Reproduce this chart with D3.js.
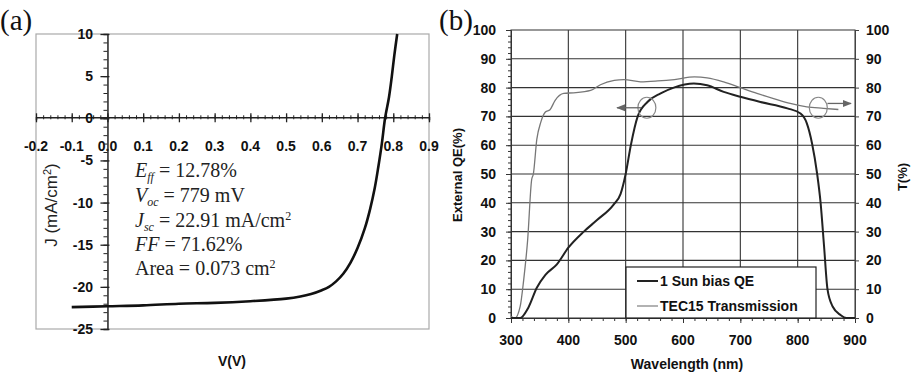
<!DOCTYPE html>
<html><head><meta charset="utf-8">
<script src="https://cdn.jsdelivr.net/npm/d3@7"></script>
<style>body{margin:0;background:#fff}svg{display:block}</style>
</head><body>
<svg id="c" width="914" height="378"></svg>
<script>
// ---- Panel (a): J-V data ----
const jvVoltage = [-0.1,0.0,0.1,0.2,0.3,0.4,0.5,0.54,0.57,0.6,0.62,0.64,0.66,0.68,0.70,0.72,0.735,0.748,0.758,0.768,0.777,0.788,0.796,0.803,0.811];
const jvCurrent = [-22.4,-22.3,-22.2,-22.0,-21.9,-21.7,-21.4,-21.15,-20.85,-20.4,-20.0,-19.35,-18.45,-17.15,-15.4,-13.1,-10.8,-8.3,-5.8,-3.0,0,2.5,5,7.5,10];
const jvXTicks = [-0.2,-0.1,0.0,0.1,0.2,0.3,0.4,0.5,0.6,0.7,0.8,0.9];
const jvYTicks = [10,5,0,-5,-10,-15,-20,-25];

// ---- Panel (b): QE and transmission ----
const qeWavelength = [300,316,330,345,360,380,400,427,450,479,491,500,509,521,538,561,584,619,642,671,700,735,782,805,816,825,834,840,846,852,861,875,885,900];
const qeValues =     [0,0,3.5,10.5,15,18.6,24.4,30,34,39.4,43,50,60,70,75,78,80,81.4,80.8,78.5,76.8,75,72.8,71,67.6,60.7,50,40,25,10,4,1,0,0];
const tWavelength = [300,307,316,322,329,336,339,345,352,360,368,377,392,409,439,456,480,497,526,556,585,620,642,671,700,729,758,787,816,845,871];
const tValues =     [0.5,0,4,13,27,48,50,62,68,71.5,72.3,75.6,78,78.2,79,81,82.5,82.8,82,82.3,82.8,83.7,83.4,82,80,78,76.2,74.5,73.3,72.8,72.4];
const qeXTicks = [300,400,500,600,700,800,900];
const qeYTicks = [0,10,20,30,40,50,60,70,80,90,100];
const legendLabels = ["1 Sun bias QE","TEC15 Transmission"];

const svg = d3.select("#c");
const tickFont = "'Liberation Sans', Arial, sans-serif";

// ================= Panel (a) =================
const ax = d3.scaleLinear().domain([-0.2,0.9]).range([36,429]);
const ay = d3.scaleLinear().domain([-25,10]).range([329,34]);
const ga = svg.append("g");
ga.append("rect").attr("x",ax(-0.2)).attr("y",ay(10)).attr("width",ax(0.9)-ax(-0.2)).attr("height",ay(-25)-ay(10))
  .attr("fill","none").attr("stroke","#aaa").attr("stroke-width",1.2);

// x axis at J=0
const xAxisA = d3.axisBottom(ax).tickValues(d3.range(-0.2,0.9001,0.02)).tickSize(3).tickFormat("");
ga.append("g").attr("transform",`translate(0,${ay(0)-1})`).call(xAxisA)
  .call(g=>g.selectAll("line").attr("stroke","#222").attr("y1",-2).attr("y2",2))
  .call(g=>g.select(".domain").attr("stroke","#222").attr("stroke-width",1.5));
ga.append("g").attr("transform",`translate(0,${ay(0)})`).call(d3.axisBottom(ax).tickValues(jvXTicks).tickSize(0).tickFormat(""))
  .call(g=>g.select(".domain").remove())
  .call(g=>g.selectAll(".tick line").attr("stroke","#222").attr("stroke-width",1.3).attr("y1",-5).attr("y2",4));
ga.selectAll("text.xl").data(jvXTicks).join("text").attr("class","xl")
  .attr("x",d=>ax(d)).attr("y",151).attr("text-anchor","middle")
  .attr("font-family",tickFont).attr("font-weight","bold").attr("font-size",14).attr("fill","#111")
  .text(d=>d.toFixed(1));

// y axis at V=0
const yAxisA = d3.axisLeft(ay).tickValues(d3.range(-25,10.001,1)).tickSize(4).tickFormat("");
ga.append("g").attr("transform",`translate(${ax(0)},0)`).call(yAxisA)
  .call(g=>g.selectAll("line").attr("stroke","#222"))
  .call(g=>g.select(".domain").attr("stroke","#222").attr("stroke-width",1.5));
ga.append("g").attr("transform",`translate(${ax(0)},0)`).call(d3.axisLeft(ay).tickValues(jvYTicks).tickSize(0).tickFormat(""))
  .call(g=>g.select(".domain").remove())
  .call(g=>g.selectAll(".tick line").attr("stroke","#222").attr("stroke-width",1.3).attr("x1",-7).attr("x2",2));
ga.selectAll("text.yl").data(jvYTicks).join("text").attr("class","yl")
  .attr("x",93).attr("y",d=>ay(d)+5).attr("text-anchor","end")
  .attr("font-family",tickFont).attr("font-weight","bold").attr("font-size",14).attr("fill","#111")
  .text(d=>d);

// curve
const lineA = d3.line().x((d,i)=>ax(jvVoltage[i])).y((d,i)=>ay(jvCurrent[i])).curve(d3.curveCatmullRom.alpha(0.5));
ga.append("path").datum(jvVoltage).attr("d",lineA).attr("fill","none").attr("stroke","#111").attr("stroke-width",2.6);

// axis titles
ga.append("text").attr("transform","translate(57,205) rotate(-90)").attr("text-anchor","middle")
  .attr("font-family",tickFont).attr("font-size",17).attr("fill","#222")
  .html('J (mA/cm<tspan dy="-6" font-size="11">2</tspan><tspan dy="6">)</tspan>');
ga.append("text").attr("x",232).attr("y",366).attr("text-anchor","middle")
  .attr("font-family",tickFont).attr("font-weight","bold").attr("font-size",14).attr("fill","#111").text("V(V)");

// parameter text
const serif = "'Liberation Serif','Times New Roman',serif";
const tb = ga.append("g").attr("font-family",serif).attr("font-size",20).attr("fill","#222");
tb.append("text").attr("x",135).attr("y",177).html('<tspan font-style="italic">E</tspan><tspan font-style="italic" font-size="12" dy="4">ff</tspan><tspan dy="-4"> = 12.78%</tspan>');
tb.append("text").attr("x",135).attr("y",202).html('<tspan font-style="italic">V</tspan><tspan font-style="italic" font-size="12" dy="4">oc</tspan><tspan dy="-4"> = 779 mV</tspan>');
tb.append("text").attr("x",135).attr("y",227).html('<tspan font-style="italic">J</tspan><tspan font-style="italic" font-size="12" dy="4">sc</tspan><tspan dy="-4"> = 22.91 mA/cm</tspan><tspan font-size="12" dy="-7">2</tspan>');
tb.append("text").attr("x",135).attr("y",251).html('<tspan font-style="italic">FF</tspan> = 71.62%');
tb.append("text").attr("x",135).attr("y",275).html('Area = 0.073 cm<tspan font-size="12" dy="-7">2</tspan>');

svg.append("text").attr("x",0).attr("y",30).attr("font-family",serif).attr("font-size",29).attr("fill","#111").text("(a)");
svg.append("text").attr("x",439).attr("y",30).attr("font-family",serif).attr("font-size",29).attr("fill","#111").text("(b)");

// ================= Panel (b) =================
const bx = d3.scaleLinear().domain([300,900]).range([511,855]);
const by = d3.scaleLinear().domain([0,100]).range([318,30]);
const gb = svg.append("g");
// grid
gb.selectAll("line.gx").data(qeXTicks.slice(1,-1)).join("line").attr("class","gx")
  .attr("x1",d=>bx(d)).attr("x2",d=>bx(d)).attr("y1",by(100)).attr("y2",by(0)).attr("stroke","#333").attr("stroke-width",1.1);
gb.selectAll("line.gy").data(qeYTicks.slice(1,-1)).join("line").attr("class","gy")
  .attr("x1",bx(300)).attr("x2",bx(900)).attr("y1",d=>by(d)).attr("y2",d=>by(d)).attr("stroke","#333").attr("stroke-width",1.1);
gb.append("rect").attr("x",bx(300)).attr("y",by(100)).attr("width",bx(900)-bx(300)).attr("height",by(0)-by(100))
  .attr("fill","none").attr("stroke","#444").attr("stroke-width",1.1);

// left axis minor ticks
gb.append("g").attr("transform",`translate(${bx(300)},0)`).call(d3.axisLeft(by).tickValues(d3.range(0,100.001,2)).tickSize(3).tickFormat(""))
  .call(g=>g.selectAll("line").attr("stroke","#333"))
  .call(g=>g.select(".domain").attr("stroke","#333"));
gb.append("g").attr("transform",`translate(${bx(300)},0)`).call(d3.axisLeft(by).tickValues(qeYTicks).tickSize(5).tickFormat(""))
  .call(g=>g.select(".domain").remove()).call(g=>g.selectAll("line").attr("stroke","#333"));
// bottom minor ticks
gb.append("g").attr("transform",`translate(0,${by(0)})`).call(d3.axisBottom(bx).tickValues(d3.range(300,900.001,20)).tickSize(3).tickFormat(""))
  .call(g=>g.selectAll("line").attr("stroke","#333"))
  .call(g=>g.select(".domain").attr("stroke","#333"));
gb.append("g").attr("transform",`translate(0,${by(0)})`).call(d3.axisBottom(bx).tickValues(qeXTicks).tickSize(5).tickFormat(""))
  .call(g=>g.select(".domain").remove()).call(g=>g.selectAll("line").attr("stroke","#333"));
// right ticks
gb.append("g").attr("transform",`translate(${bx(900)},0)`).call(d3.axisRight(by).tickValues(qeYTicks).tickSize(4).tickFormat(""))
  .call(g=>g.select(".domain").attr("stroke","#444")).call(g=>g.selectAll("line").attr("stroke","#444"));

// tick labels
gb.selectAll("text.bl").data(qeYTicks).join("text").attr("class","bl")
  .attr("x",496).attr("y",d=>by(d)+5).attr("text-anchor","end")
  .attr("font-family",tickFont).attr("font-weight","bold").attr("font-size",14).attr("fill","#111").text(d=>d);
gb.selectAll("text.br").data(qeYTicks).join("text").attr("class","br")
  .attr("x",866).attr("y",d=>by(d)+5).attr("text-anchor","start")
  .attr("font-family",tickFont).attr("font-weight","bold").attr("font-size",14).attr("fill","#111").text(d=>d);
gb.selectAll("text.bx").data(qeXTicks).join("text").attr("class","bx")
  .attr("x",d=>bx(d)).attr("y",345).attr("text-anchor","middle")
  .attr("font-family",tickFont).attr("font-weight","bold").attr("font-size",14).attr("fill","#111").text(d=>d);

// titles
gb.append("text").attr("transform","translate(462,175) rotate(-90)").attr("text-anchor","middle")
  .attr("font-family",tickFont).attr("font-weight","bold").attr("font-size",13).attr("fill","#111").text("External QE(%)");
gb.append("text").attr("transform","translate(907,177) rotate(-90)").attr("text-anchor","middle")
  .attr("font-family",tickFont).attr("font-weight","bold").attr("font-size",13).attr("fill","#111").text("T(%)");
gb.append("text").attr("x",687).attr("y",369).attr("text-anchor","middle")
  .attr("font-family",tickFont).attr("font-weight","bold").attr("font-size",14).attr("fill","#111").text("Wavelength (nm)");

// curves
const lineT = d3.line().x((d,i)=>bx(tWavelength[i])).y((d,i)=>by(tValues[i])).curve(d3.curveMonotoneX);
gb.append("path").datum(tWavelength).attr("d",lineT).attr("fill","none").attr("stroke","#777").attr("stroke-width",1.3);
const lineQ = d3.line().x((d,i)=>bx(qeWavelength[i])).y((d,i)=>by(qeValues[i])).curve(d3.curveMonotoneX);
gb.append("path").datum(qeWavelength).attr("d",lineQ).attr("fill","none").attr("stroke","#222").attr("stroke-width",2);

// annotations
svg.append("defs").html('<marker id="ah" viewBox="0 0 10 10" refX="9" refY="5" markerWidth="7" markerHeight="7" orient="auto"><path d="M0,1 L10,5 L0,9 z" fill="#666"/></marker>');
gb.append("ellipse").attr("cx",bx(537)).attr("cy",by(73)).attr("rx",9).attr("ry",10.5).attr("fill","none").attr("stroke","#888").attr("stroke-width",1.2);
gb.append("line").attr("x1",bx(527)).attr("x2",bx(485)).attr("y1",by(73)).attr("y2",by(73)).attr("stroke","#666").attr("stroke-width",1.3).attr("marker-end","url(#ah)");
gb.append("ellipse").attr("cx",bx(836)).attr("cy",by(73)).attr("rx",9).attr("ry",10.5).attr("fill","none").attr("stroke","#888").attr("stroke-width",1.2);
gb.append("line").attr("x1",bx(852)).attr("x2",bx(893)).attr("y1",by(74.5)).attr("y2",by(74.5)).attr("stroke","#666").attr("stroke-width",1.3).attr("marker-end","url(#ah)");

// legend
const lg = gb.append("g");
lg.append("rect").attr("x",626).attr("y",267).attr("width",190).attr("height",by(0)-267).attr("fill","#fff").attr("stroke","#222").attr("stroke-width",1.2);
const legColors = ["#222","#888"], legW=[2,1.3];
legendLabels.forEach((t,i)=>{
  const yy = 281 + i*25;
  lg.append("line").attr("x1",637).attr("x2",658).attr("y1",yy).attr("y2",yy).attr("stroke",legColors[i]).attr("stroke-width",legW[i]);
  lg.append("text").attr("x",660).attr("y",yy+5).attr("font-family",tickFont).attr("font-weight","bold").attr("font-size",14).attr("fill","#111").text(t);
});
</script>
</body></html>
